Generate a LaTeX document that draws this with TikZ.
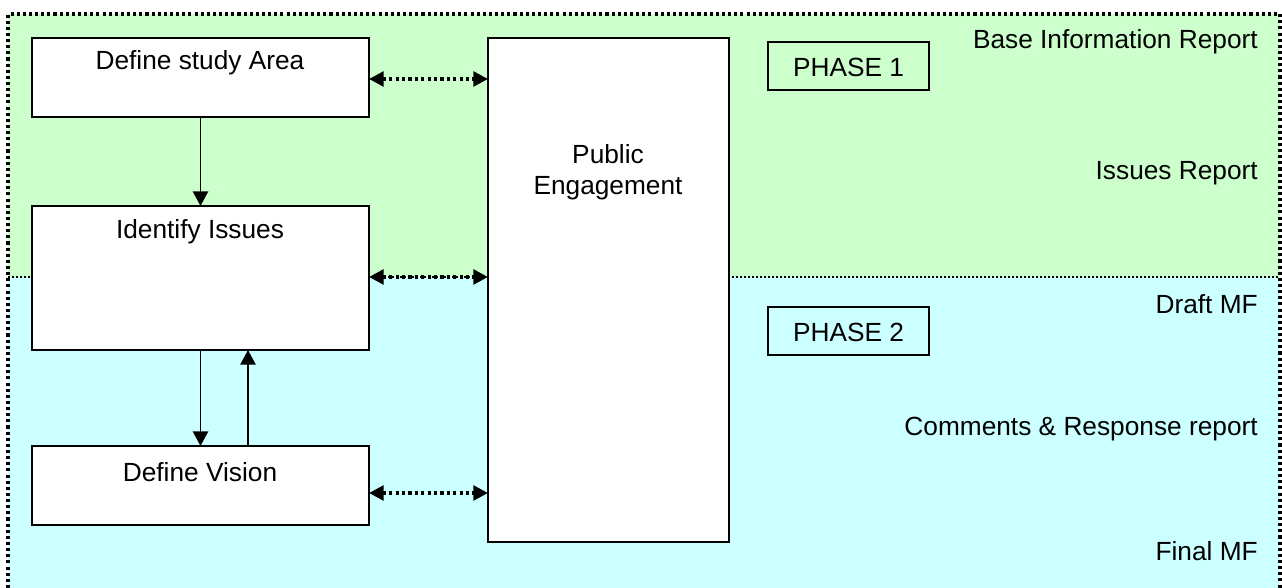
\documentclass[tikz,border=0pt]{standalone}
\usepackage{fontspec}
\setmainfont{Liberation Sans}
\usetikzlibrary{arrows.meta}
\definecolor{phaseone}{RGB}{204,255,204}
\definecolor{phasetwo}{RGB}{204,255,255}
\tikzset{
  box/.style={draw=black, line width=1.2pt, fill=white, anchor=north west, inner sep=0pt, outer sep=0pt},
  lbl/.style={font=\fontsize{19.7}{23.3}\selectfont, inner sep=0pt, align=center},
  rlbl/.style={font=\fontsize{19.7}{23.3}\selectfont, inner sep=0pt, anchor=east},
  flow/.style={line width=1.2pt, -{Triangle[width=11.5pt,length=11pt]}},
  link/.style={line width=2.6pt, dash pattern=on 2.4pt off 2.4pt,
    {Triangle[width=11pt,length=11pt]}-{Triangle[width=11pt,length=11pt]}},
  border/.style={line width=2.3pt, dash pattern=on 2.3pt off 2.3pt},
  divider/.style={line width=1.5pt, dash pattern=on 1.5pt off 1.5pt}
}
\begin{document}
\begin{tikzpicture}[x=0.75pt,y=-0.75pt]
\useasboundingbox (0,0) rectangle (1282,588);
% backgrounds
\fill[phaseone] (8,14) rectangle (1280,277);
\fill[phasetwo] (8,277) rectangle (1280,588);
\draw[divider] (8,277) -- (1280,277);
\draw[border] (8,588) -- (8,14) -- (1280,14) -- (1280,588);
% boxes
\node[box, minimum width=337*0.75pt, minimum height=79*0.75pt] (study) at (32,38) {};
\node[box, minimum width=337*0.75pt, minimum height=144*0.75pt] (issues) at (32,206) {};
\node[box, minimum width=337*0.75pt, minimum height=79*0.75pt] (vision) at (32,446) {};
\node[box, minimum width=241*0.75pt, minimum height=504*0.75pt] (public) at (488,38) {};
\node[box, fill=none, line width=1pt, minimum width=161*0.75pt, minimum height=48*0.75pt] (p1) at (768,42) {};
\node[box, fill=none, line width=1pt, minimum width=161*0.75pt, minimum height=48*0.75pt] (p2) at (768,307) {};
% box texts
\node[lbl] (studyt) at (200,63) {Define study Area};
\node[lbl] (issuest) at (200,232) {Identify Issues};
\node[lbl] (visiont) at (200,472) {Define Vision};
\node[lbl] (publict) at (608,172) {Public\\Engagement};
\node[lbl] (p1t) at (848.5,67) {PHASE 1};
\node[lbl] (p2t) at (848.5,332) {PHASE 2};
% right-hand texts
\node[rlbl] (r1) at (1258,42) {Base Information Report};
\node[rlbl] (r2) at (1258,173) {Issues Report};
\node[rlbl] (r3) at (1258,304) {Draft MF};
\node[rlbl] (r4) at (1258,429) {Comments \& Response report};
\node[rlbl] (r5) at (1258,551) {Final MF};
% flow arrows
\coordinate (upx) at (248,0);
\draw[flow] (study.south) -- (issues.north);
\draw[flow] (issues.south) -- (vision.north);
\draw[flow] (vision.north -| upx) -- (issues.south -| upx);
% dotted links
\coordinate (l1) at (0,79);
\coordinate (l2) at (0,277);
\coordinate (l3) at (0,493);
\draw[link] (study.east |- l1) -- (public.west |- l1);
\draw[link] (issues.east |- l2) -- (public.west |- l2);
\draw[link] (vision.east |- l3) -- (public.west |- l3);
\end{tikzpicture}
\end{document}
